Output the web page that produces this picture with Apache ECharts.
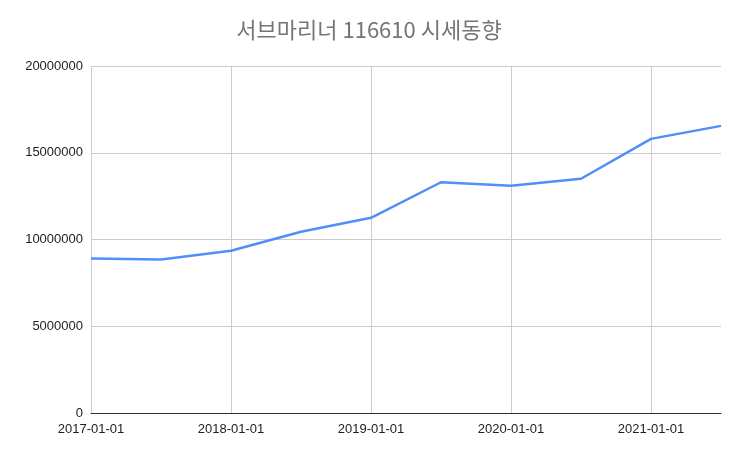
<!DOCTYPE html>
<html>
<head>
<meta charset="utf-8">
<script src="https://cdn.jsdelivr.net/npm/echarts@6/dist/echarts.min.js"></script>
<style>html,body{margin:0;padding:0;background:#fff}#c{width:738px;height:457px}</style>
</head>
<body>
<div id="c"></div>
<script>
var dates = ['2017-01-01','2017-07-01','2018-01-01','2018-07-01','2019-01-01','2019-07-01','2020-01-01','2020-07-01','2021-01-01','2021-07-01'];
var prices = [8900000, 8850000, 9350000, 10450000, 11250000, 13300000, 13100000, 13500000, 15800000, 16550000];
var yTicks = [0, 5000000, 10000000, 15000000, 20000000];

var chart = echarts.init(document.getElementById('c'));
chart.setOption({
  animation: false,
  title: {
    text: '서브마리너 116610 시세동향',
    left: 'center', top: 14,
    textStyle: { fontFamily: 'Noto Sans CJK KR', fontSize: 22, fontWeight: 'normal', color: '#757575' }
  },
  grid: { left: 91, right: 17, top: 66, bottom: 44 },
  xAxis: {
    type: 'category',
    data: dates,
    boundaryGap: false,
    axisLine: { lineStyle: { color: '#333' } },
    axisTick: { show: false },
    axisLabel: { interval: 1, color: '#222', fontFamily: 'Arial', fontSize: 13, margin: 10 },
    splitLine: { show: true, interval: 1, lineStyle: { color: '#cccccc' } }
  },
  yAxis: {
    type: 'value',
    min: yTicks[0], max: yTicks[yTicks.length - 1], interval: 5000000,
    axisLine: { show: false },
    axisTick: { show: false },
    axisLabel: { color: '#222', fontFamily: 'Arial', fontSize: 13, margin: 8, formatter: function (v) { return String(v); } },
    splitLine: { lineStyle: { color: '#cccccc' } }
  },
  series: [{
    type: 'line',
    data: prices,
    showSymbol: false,
    lineStyle: { color: '#4f8ff7', width: 2.5 },
    itemStyle: { color: '#4f8ff7' }
  }]
});
</script>
</body>
</html>
